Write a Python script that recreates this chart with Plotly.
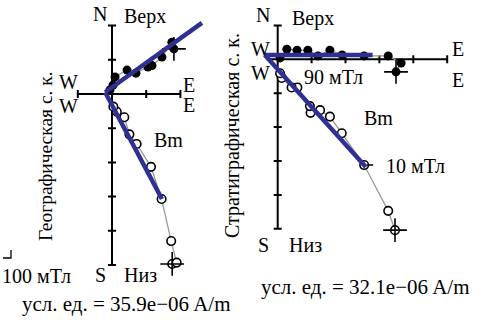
import plotly.graph_objects as go

W, H = 483, 320
FONT = "Liberation Serif"

# ---- Geographic coordinates (left diagram), conventional units ----
geo_h_e = [1.81, 1.75, 1.46, 1.17, 1.05, 0.70, 0.44, 0.09, 0.03, -0.06]
geo_h_n = [1.32, 1.51, 1.08, 0.83, 0.79, 0.61, 0.70, 0.50, 0.26, 0.12]
geo_v_e = [1.76, 1.89, 1.73, 1.45, 1.14, 0.72, 0.51, 0.36, 0.14, 0.04]
geo_v_up = [-4.97, -4.93, -4.30, -3.07, -2.13, -1.46, -1.18, -0.68, -0.52, -0.37]
geo_fit_h_x = [-0.20, 2.63]
geo_fit_h_y = [0.05, 2.08]
geo_fit_v_x = [-0.20, 1.46]
geo_fit_v_y = [0.05, -3.07]
geo_xticks = [-1, 1, 2]
geo_yticks = [2, 1, -1, -2, -3, -4, -5]
geo_unit = "усл. ед. = 35.9e−06 A/m"

# ---- Stratigraphic coordinates (right diagram) ----
str_h_e = [3.49, 3.64, 3.26, 2.55, 1.90, 1.54, 1.19, 0.89, 0.57, 0.27, 0.07]
str_h_n = [-0.37, -0.11, 0.10, 0.10, 0.13, 0.27, 0.10, 0.27, 0.27, 0.30, 0.04]
str_v_e = [3.46, 3.26, 2.55, 1.89, 1.54, 1.25, 0.97, 0.95, 0.58, 0.41, 0.12, 0.07]
str_v_up = [-5.04, -4.47, -3.12, -2.18, -1.69, -1.50, -1.58, -1.38, -0.83, -0.83, -0.55, -0.41]
str_fit_h_x = [-0.38, 2.80]
str_fit_h_y = [0.13, 0.13]
str_fit_v_x = [-0.38, 2.60]
str_fit_v_y = [0.13, -3.18]
str_xticks = [1, 2, 3, 4, 5]
str_yticks = [1, -1, -2, -3, -4, -5]
str_unit = "усл. ед. = 32.1e−06 A/m"

# panel geometry: origin in pixels, pixels per unit, axis ranges
panels = {
    "geo": dict(ox=112.0, oy=94.0, s=34.2, xr=(-1.5, 3.2), yr=(-5.6, 2.6),
                xaxis=(-1, 2), yaxis=(-5, 2)),
    "str": dict(ox=277.7, oy=59.3, s=33.9, xr=(-0.6, 5.3), yr=(-5.6, 1.4),
                xaxis=(-0.3, 5), yaxis=(-5, 1)),
}

BLUE = "#2e3192"
GREY = "#9a9a9a"

fig = go.Figure()


def axis_traces(xa, ya, p, xticks, yticks):
    s = p["s"]
    tl = 4.0 / s
    lx, ly = [], []
    # cross-shaped axes through the origin
    lx += [p["xaxis"][0], p["xaxis"][1], None, 0, 0, None]
    ly += [0, 0, None, p["yaxis"][0], p["yaxis"][1], None]
    for t in xticks:
        lx += [t, t, None]
        ly += [-tl, tl, None]
    for t in yticks:
        lx += [-tl, tl, None]
        ly += [t, t, None]
    fig.add_trace(go.Scatter(x=lx, y=ly, mode="lines", xaxis=xa, yaxis=ya,
                             line=dict(color="black", width=2), hoverinfo="skip"))


def data_traces(xa, ya, he, hn, ve, vup, fhx, fhy, fvx, fvy):
    # thin connecting paths
    fig.add_trace(go.Scatter(x=he, y=hn, mode="lines", xaxis=xa, yaxis=ya,
                             line=dict(color=GREY, width=1.3)))
    fig.add_trace(go.Scatter(x=ve, y=vup, mode="lines", xaxis=xa, yaxis=ya,
                             line=dict(color=GREY, width=1.3)))
    # horizontal projection: filled dots
    fig.add_trace(go.Scatter(x=he, y=hn, mode="markers", xaxis=xa, yaxis=ya,
                             marker=dict(symbol="circle", size=9, color="black",
                                         line=dict(width=0))))
    # vertical projection: open circles
    fig.add_trace(go.Scatter(x=ve, y=vup, mode="markers", xaxis=xa, yaxis=ya,
                             marker=dict(symbol="circle", size=8.5, color="white",
                                         line=dict(width=1.6, color="black"))))
    # NRM crosshair on first step
    fig.add_trace(go.Scatter(x=[he[0], ve[0]], y=[hn[0], vup[0]], mode="markers",
                             xaxis=xa, yaxis=ya,
                             marker=dict(symbol="cross-thin", size=17,
                                         line=dict(width=1.6, color="black"))))
    # PCA fit lines
    fig.add_trace(go.Scatter(x=fhx, y=fhy, mode="lines", xaxis=xa, yaxis=ya,
                             line=dict(color=BLUE, width=4.5)))
    fig.add_trace(go.Scatter(x=fvx, y=fvy, mode="lines", xaxis=xa, yaxis=ya,
                             line=dict(color=BLUE, width=4.5)))


axis_traces("x", "y", panels["geo"], geo_xticks, geo_yticks)
data_traces("x", "y", geo_h_e, geo_h_n, geo_v_e, geo_v_up,
            geo_fit_h_x, geo_fit_h_y, geo_fit_v_x, geo_fit_v_y)
axis_traces("x2", "y2", panels["str"], str_xticks, str_yticks)
data_traces("x2", "y2", str_h_e, str_h_n, str_v_e, str_v_up,
            str_fit_h_x, str_fit_h_y, str_fit_v_x, str_fit_v_y)

# leader dash next to the 10 mT step
k10 = 2
s2 = panels["str"]["s"]
fig.add_trace(go.Scatter(x=[str_v_e[k10] + 3 / s2, str_v_e[k10] + 9 / s2],
                         y=[str_v_up[k10], str_v_up[k10]], mode="lines",
                         xaxis="x2", yaxis="y2",
                         line=dict(color="black", width=1.6)))


def domain(p):
    x0 = p["ox"] + p["xr"][0] * p["s"]
    x1 = p["ox"] + p["xr"][1] * p["s"]
    ytop = p["oy"] - p["yr"][1] * p["s"]
    ybot = p["oy"] - p["yr"][0] * p["s"]
    return [x0 / W, x1 / W], [1 - ybot / H, 1 - ytop / H]


def ax(p, dom, **kw):
    return dict(range=list(p), domain=dom, visible=False, fixedrange=True, **kw)


gx, gy = domain(panels["geo"])
sx, sy = domain(panels["str"])

annotations = []


def label(text, px, py, anchor="center", size=20, angle=0):
    annotations.append(dict(text=text, x=px / W, y=1 - py / H, xref="paper", yref="paper",
                            showarrow=False, xanchor=anchor, yanchor="middle",
                            textangle=angle, font=dict(family=FONT, size=size, color="black")))


# left diagram labels
label("N", 100, 14)
label("Верх", 122, 16, "left")
label("W", 68, 82)
label("W", 68, 106)
label("E", 189, 85)
label("E", 189, 105)
label("Bm", 168, 140)
label("S", 100, 275)
label("Низ", 122, 275, "left")
label(geo_unit, 126, 304, size=21)
label("100 мТл", 0, 276, "left")
label("Географическая с. к.", 45, 156, size=19.5, angle=-90)

# right diagram labels
label("N", 263, 15)
label("Верх", 290, 18, "left")
label("W", 260, 49)
label("W", 260, 73)
label("E", 458, 49)
label("E", 458, 80)
label("90 мТл", 333, 77)
label("Bm", 378, 118)
label("10 мТл", 384, 166, "left")
label("S", 263, 245)
label("Низ", 287, 245, "left")
label(str_unit, 365, 287, size=21)
label("Стратиграфическая с. к.", 232, 136, angle=-90)

# small bracket beside the 100 mT caption
shapes = [dict(type="path", xref="paper", yref="paper",
               path=f"M {3 / W},{1 - 258 / H} L {11 / W},{1 - 258 / H} L {11 / W},{1 - 250 / H}",
               line=dict(color="black", width=1.3))]

fig.update_layout(
    width=W, height=H,
    margin=dict(l=0, r=0, t=0, b=0),
    paper_bgcolor="white", plot_bgcolor="rgba(0,0,0,0)",
    showlegend=False,
    font=dict(family=FONT),
    xaxis=ax(panels["geo"]["xr"], gx),
    yaxis=ax(panels["geo"]["yr"], gy),
    xaxis2=ax(panels["str"]["xr"], sx),
    yaxis2=ax(panels["str"]["yr"], sy),
    annotations=annotations,
    shapes=shapes,
)

fig.write_html("out.html")
